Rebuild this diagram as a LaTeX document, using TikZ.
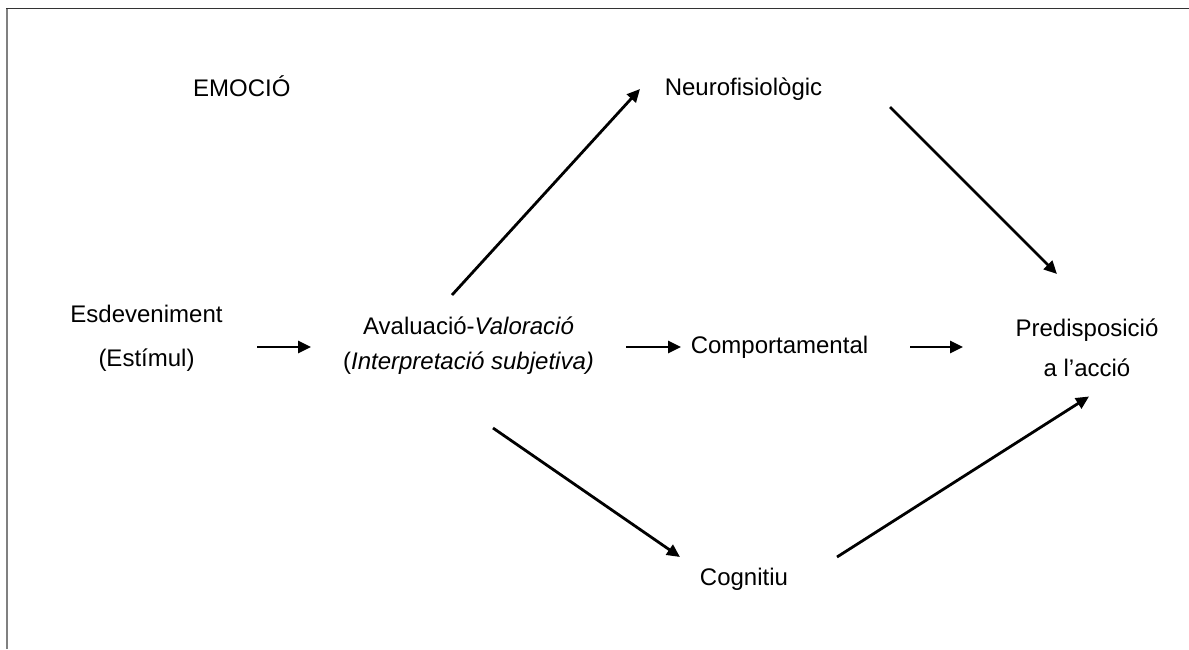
\documentclass[tikz,border=0pt]{standalone}
\usepackage{fontspec}
\setmainfont{Liberation Sans}
\usetikzlibrary{arrows.meta}
\begin{document}
\begin{tikzpicture}[x=1pt,y=-1pt,
  lbl/.style={inner sep=0pt, anchor=base, font=\fontsize{24}{28}\selectfont},
  arr/.style={line width=2.8pt, -{Triangle[length=13pt,width=12pt]}}]
\useasboundingbox (0,0) rectangle (1189,649);
\fill[white] (0,0) rectangle (1189,649);
\draw[line width=1.5pt, black!50] (6.8,649) -- (6.8,8.3);
\draw[line width=1.5pt, black!80] (6.05,8.3) -- (1189,8.3);

% texts
\node[lbl, anchor=base west] (emo) at (193,96.7) {EMOCIÓ};
\node[lbl] (neuro) at (743.5,95) {Neurofisiològic};
\node[lbl] (esd) at (146.5,322) {Esdeveniment};
\node[lbl] (estim) at (146.5,366) {(Estímul)};
\node[lbl] (aval) at (468.5,334.5) {Avaluació-\textit{Valoració}};
\node[lbl] (interp) at (468.5,369.5) {(\textit{Interpretació subjetiva)}};
\node[lbl] (comp) at (779.5,353.3) {Comportamental};
\node[lbl] (pred) at (1087,336) {Predisposició};
\node[lbl] (accio) at (1087,376.7) {a l’acció};
\node[lbl] (cogn) at (744,585.7) {Cognitiu};

% arrow end points
\coordinate (esdOut) at (257,347);
\coordinate (avalIn) at (311,347);
\coordinate (avalOutC) at (626,347);
\coordinate (compIn) at (681,347);
\coordinate (compOut) at (910,347);
\coordinate (predInC) at (963,347);
\coordinate (avalOutN) at (452,295);
\coordinate (neuroIn) at (640,89);
\coordinate (neuroOut) at (890,107);
\coordinate (predInN) at (1057,274);
\coordinate (avalOutG) at (493,428);
\coordinate (cognIn) at (680,557);
\coordinate (cognOut) at (837,557);
\coordinate (predInG) at (1089,396.5);

\draw[arr] (esdOut) -- (avalIn);
\draw[arr] (avalOutC) -- (compIn);
\draw[arr] (compOut) -- (predInC);
\draw[arr] (avalOutN) -- (neuroIn);
\draw[arr] (neuroOut) -- (predInN);
\draw[arr] (avalOutG) -- (cognIn);
\draw[arr] (cognOut) -- (predInG);
\end{tikzpicture}
\end{document}
